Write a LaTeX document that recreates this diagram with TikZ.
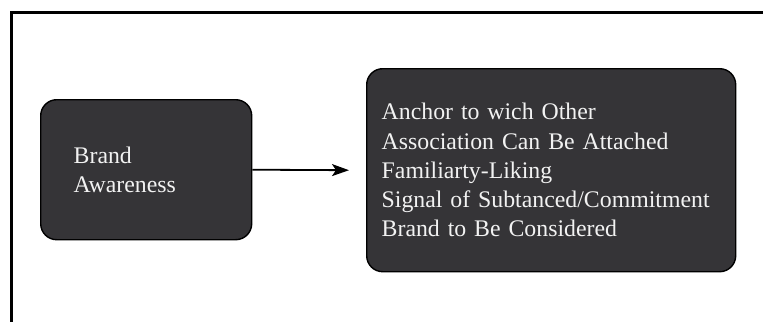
\documentclass[tikz,border=0pt]{standalone}
\usepackage{fontspec}
\setmainfont{Liberation Serif}
\usepackage{tikz}
\definecolor{boxgray}{HTML}{353437}
\definecolor{textwhite}{HTML}{F2F2F2}
\usetikzlibrary{arrows.meta}
\tikzstyle{caixa}=[draw=black, fill=boxgray, text=textwhite, rounded corners=16pt, line width=1.4pt, align=left, font=\fontsize{23.8}{29.2}\selectfont, anchor=north west]

\begin{document}
\begin{tikzpicture}[x=1pt, y=-1pt, ->, >={Stealth[length=17pt, width=12pt, inset=4pt]}, line width=1.8pt]
				\useasboundingbox (0,0) rectangle (763,322);
				\draw[-, line width=3pt] (763,12) -- (11.5,12) -- (11.5,322);
				\node[caixa, minimum width=211pt, minimum height=140pt, text width=145pt, inner xsep=33pt] (awareness) at (40,99) {Brand\\Awareness};
				\node[caixa, minimum width=369pt, minimum height=203pt, text width=339pt, inner xsep=15pt] (valor) at (366,68) {Anchor to wich Other\\Association Can Be Attached\\Familiarty-Liking\\Signal of Subtanced/Commitment\\Brand to Be Considered};
				\draw (awareness.east)--([xshift=-17pt]valor.west);
			\end{tikzpicture}
\end{document}
